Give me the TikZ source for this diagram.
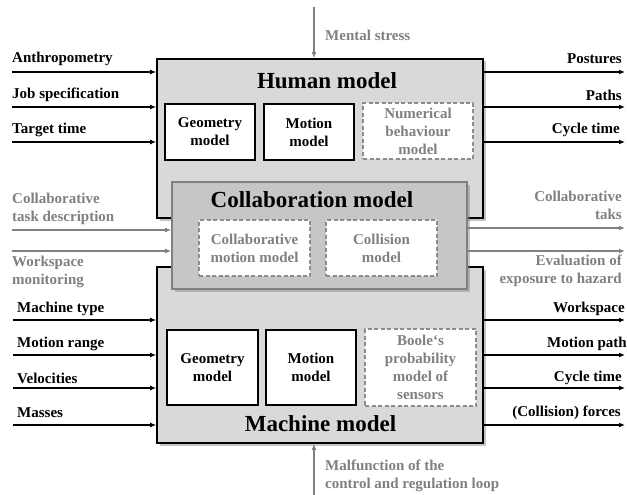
\documentclass[tikz,border=0pt]{standalone}
\usepackage{fontspec}
\setmainfont{Liberation Serif}
\usetikzlibrary{arrows.meta,shadows}
\definecolor{boxgray}{HTML}{D9D9D9}
\definecolor{collgray}{HTML}{C6C6C6}
\definecolor{txtgray}{HTML}{808080}
\definecolor{dashgray}{HTML}{8C8C8C}
\begin{document}
\begin{tikzpicture}[x=1pt,y=-1pt,
  font=\fontsize{15}{18}\selectfont\bfseries,
  bigbox/.style={draw=black,line width=1.6pt,fill=boxgray,
    drop shadow={shadow xshift=2.5pt,shadow yshift=-2.5pt,opacity=0.45}},
  collbox/.style={draw=txtgray,line width=1.6pt,fill=collgray,
    drop shadow={shadow xshift=2.5pt,shadow yshift=-2.5pt,opacity=0.45}},
  solidbox/.style={draw=black,line width=1.6pt,fill=white,align=center,inner sep=0pt},
  dashbox/.style={draw=dashgray,line width=1.3pt,dashed,dash pattern=on 4pt off 2.5pt,fill=white,align=center,text=txtgray,inner sep=0pt},
  title/.style={font=\fontsize{23}{26}\selectfont\bfseries},
  lab/.style={inner sep=0pt,align=left},
  rlab/.style={inner sep=0pt,align=right},
  blackarrow/.style={line width=1.6pt,-{Latex[length=6pt,width=5pt]}},
  grayarrow/.style={draw=txtgray,line width=1.5pt,-{Latex[length=6pt,width=5pt]}}
]
\useasboundingbox[fill=white] (0,0) rectangle (627,495);

% main boxes
\node[bigbox,minimum width=326pt,minimum height=159pt] (human) at (320,138.5) {};
\node[bigbox,minimum width=326pt,minimum height=176pt] (machine) at (320,355) {};
\node[collbox,minimum width=295pt,minimum height=107pt] (coll) at (319.5,235.5) {};

% titles
\node[title] (htitle) at (327,81) {Human model};
\node[title] (ctitle) at (312,200) {Collaboration model};
\node[title] (mtitle) at (320.5,424) {Machine model};

% human inner
\node[solidbox,minimum width=90pt,minimum height=56pt] (hgeo) at (210,132) {Geometry\\model};
\node[solidbox,minimum width=90pt,minimum height=56pt] (hmot) at (309,132) {Motion\\model};
\node[dashbox,minimum width=110pt,minimum height=56pt] (hnum) at (418,131) {Numerical\\behaviour\\model};

% collaboration inner
\node[dashbox,minimum width=111pt,minimum height=56pt] (cmot) at (254.5,248) {Collaborative\\motion model};
\node[dashbox,minimum width=111pt,minimum height=56pt] (ccol) at (381.5,248) {Collision\\model};

% machine inner
\node[solidbox,minimum width=91pt,minimum height=75pt] (mgeo) at (212.5,367.5) {Geometry\\model};
\node[solidbox,minimum width=90pt,minimum height=75pt] (mmot) at (311,367.5) {Motion\\model};
\node[dashbox,minimum width=111pt,minimum height=77pt] (mboo) at (420.5,367.5) {Boole‘s\\probability\\model of\\sensors};

% left inputs (human)
\coordinate (l1) at (12,72);
\coordinate (l2) at (12,107);
\coordinate (l3) at (12,142);
\draw[blackarrow] (l1) -- (l1 -| human.west);
\draw[blackarrow] (l2) -- (l2 -| human.west);
\draw[blackarrow] (l3) -- (l3 -| human.west);
\node[lab,anchor=west] (t1) at (12,59) {Anthropometry};
\node[lab,anchor=west] (t2) at (12,95) {Job specification};
\node[lab,anchor=west] (t3) at (12,130) {Target time};

% left inputs (collaboration)
\coordinate (g1) at (12,230);
\coordinate (g2) at (12,251);
\draw[grayarrow] (g1) -- (g1 -| coll.west);
\draw[grayarrow] (g2) -- (g2 -| coll.west);
\node[lab,anchor=west,text=txtgray] (tg1) at (12,209) {Collaborative\\task description};
\node[lab,anchor=west,text=txtgray] (tg2) at (12,272) {Workspace\\monitoring};

% left inputs (machine)
\coordinate (m1) at (13,320);
\coordinate (m2) at (13,355);
\coordinate (m3) at (13,388);
\coordinate (m4) at (13,425);
\draw[blackarrow] (m1) -- (m1 -| machine.west);
\draw[blackarrow] (m2) -- (m2 -| machine.west);
\draw[blackarrow] (m3) -- (m3 -| machine.west);
\draw[blackarrow] (m4) -- (m4 -| machine.west);
\node[lab,anchor=west] (tm1) at (17,309) {Machine type};
\node[lab,anchor=west] (tm2) at (17,344) {Motion range};
\node[lab,anchor=west] (tm3) at (17,378) {Velocities};
\node[lab,anchor=west] (tm4) at (17,413) {Masses};

% right outputs (human)
\coordinate (r1) at (625,72);
\coordinate (r2) at (625,107);
\coordinate (r3) at (625,142);
\draw[blackarrow] (r1 -| human.east) -- (r1);
\draw[blackarrow] (r2 -| human.east) -- (r2);
\draw[blackarrow] (r3 -| human.east) -- (r3);
\node[rlab,anchor=east] (u1) at (622,59) {Postures};
\node[rlab,anchor=east] (u2) at (622,95) {Paths};
\node[rlab,anchor=east] (u3) at (620,130) {Cycle time};

% right outputs (collaboration)
\coordinate (s1) at (625,228);
\coordinate (s2) at (625,251);
\draw[grayarrow] (s1 -| coll.east) -- (s1);
\draw[grayarrow] (s2 -| coll.east) -- (s2);
\node[rlab,anchor=east,text=txtgray] (us1) at (622,205) {Collaborative\\taks};
\node[rlab,anchor=east,text=txtgray] (us2) at (622,271) {Evaluation of\\exposure to hazard};

% right outputs (machine)
\coordinate (n1) at (625,320);
\coordinate (n2) at (625,355);
\coordinate (n3) at (625,388);
\coordinate (n4) at (625,425);
\draw[blackarrow] (n1 -| machine.east) -- (n1);
\draw[blackarrow] (n2 -| machine.east) -- (n2);
\draw[blackarrow] (n3 -| machine.east) -- (n3);
\draw[blackarrow] (n4 -| machine.east) -- (n4);
\node[rlab,anchor=east] (un1) at (625,309) {Workspace};
\node[rlab,anchor=east] (un2) at (627,344) {Motion path};
\node[rlab,anchor=east] (un3) at (622,378) {Cycle time};
\node[rlab,anchor=east] (un4) at (621,413) {(Collision) forces};

% top and bottom
\coordinate (top) at (314,7);
\coordinate (bot) at (314,495);
\draw[grayarrow] (top) -- (top |- human.north);
\draw[grayarrow] (bot) -- (bot |- machine.south);
\node[lab,anchor=west,text=txtgray] (ms) at (325,35) {Mental stress};
\node[lab,anchor=west,text=txtgray] (mf) at (325,475.5) {Malfunction of the\\control and regulation loop};
\end{tikzpicture}
\end{document}
